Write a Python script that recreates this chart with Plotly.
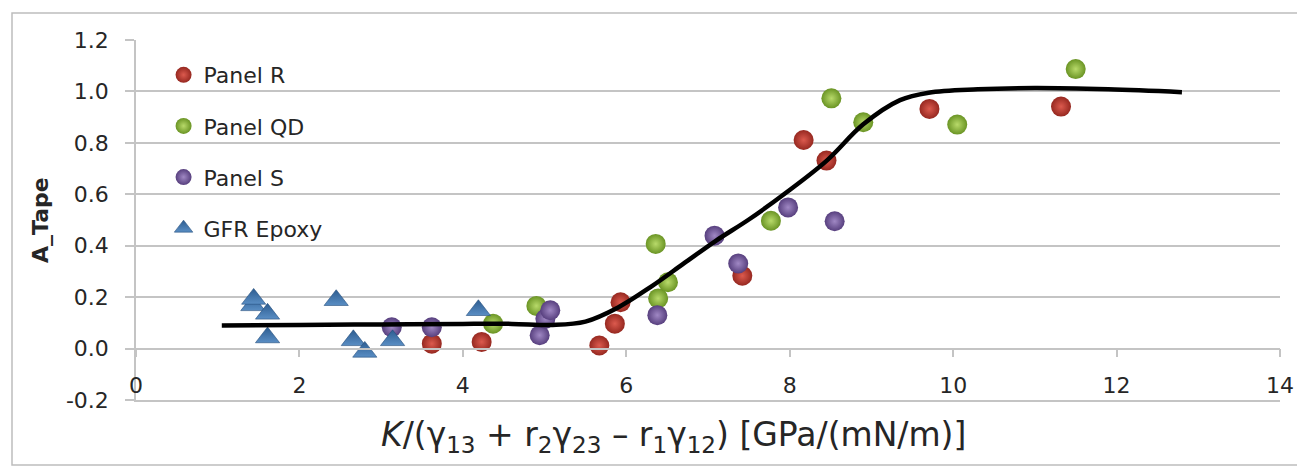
import plotly.graph_objects as go

# ---- data ----
r_x = [3.62, 4.23, 5.67, 5.86, 5.93, 7.42, 8.17, 8.45, 9.71, 11.32]
r_y = [0.019, 0.026, 0.012, 0.097, 0.180, 0.283, 0.811, 0.731, 0.932, 0.941]

qd_x = [4.37, 4.90, 6.36, 6.39, 6.51, 7.77, 8.51, 8.90, 10.05, 11.50]
qd_y = [0.097, 0.166, 0.407, 0.195, 0.258, 0.497, 0.973, 0.880, 0.871, 1.087]

s_x = [3.13, 3.62, 4.94, 5.01, 5.07, 6.38, 7.08, 7.37, 7.98, 8.55]
s_y = [0.083, 0.083, 0.052, 0.116, 0.149, 0.130, 0.439, 0.331, 0.549, 0.495]

gfr_x = [1.43, 1.44, 1.61, 1.61, 2.45, 2.66, 2.80, 3.14, 4.19]
gfr_y = [0.168, 0.193, 0.135, 0.043, 0.188, 0.032, -0.013, 0.032, 0.149]

fit_x = [1.05, 2.0, 3.0, 4.0, 4.6, 5.1, 5.5, 5.9, 6.3, 6.7, 7.1, 7.5, 7.95,
         8.45, 8.9, 9.35, 9.7, 10.3, 11.0, 11.9, 12.8]
fit_y = [0.090, 0.092, 0.094, 0.096, 0.096, 0.092, 0.105, 0.160, 0.240, 0.330,
         0.420, 0.502, 0.605, 0.730, 0.872, 0.966, 0.995, 1.008, 1.013, 1.008, 0.997]

x_ticks = [0, 2, 4, 6, 8, 10, 12, 14]
x_labels = ["0", "2", "4", "6", "8", "10", "12", "14"]
y_ticks = [-0.2, 0.0, 0.2, 0.4, 0.6, 0.8, 1.0, 1.2]
y_labels = ["-0.2", "0.0", "0.2", "0.4", "0.6", "0.8", "1.0", "1.2"]

FONT = "DejaVu Sans"
GRID = "#c4c4c4"
TXT = "#262626"

fig = go.Figure()

def sphere(name, xs, ys, edge, center, group):
    fig.add_trace(go.Scatter(
        x=xs, y=ys, mode="markers", name=name, legendgroup=group,
        marker=dict(size=20, color=edge, symbol="circle",
                    gradient=dict(type="radial", color=center),
                    line=dict(width=0)),
    ))

sphere("Panel R", r_x, r_y, "#962820", "#dc5a4e", "g1")
sphere("Panel QD", qd_x, qd_y, "#6a9424", "#b8da6a", "g2")
sphere("Panel S", s_x, s_y, "#573f7e", "#a088c4", "g3")

fig.add_trace(go.Scatter(
    x=gfr_x, y=gfr_y, mode="markers", name="GFR Epoxy", legendgroup="g4",
    marker=dict(size=21, symbol="triangle-up", color="#2c5c90",
                gradient=dict(type="vertical", color="#5a8ec4"),
                line=dict(width=0.6, color="#234e7c")),
))

fig.add_trace(go.Scatter(
    x=fit_x, y=fit_y, mode="lines", line=dict(color="black", width=4.5, shape="spline"),
    showlegend=False, hoverinfo="skip",
))

# dummy trace to carry the axis drawn at y = 0 with its tick marks
fig.add_trace(go.Scatter(x=[None], y=[None], xaxis="x2", showlegend=False, hoverinfo="skip"))

# the page body has an 8px margin, so the figure is laid out 8px up/left
fig.update_layout(
    width=1297, height=458,
    margin=dict(l=128, r=25, t=32, b=66),
    paper_bgcolor="white", plot_bgcolor="white",
    font=dict(family=FONT, size=22, color=TXT),
    showlegend=True,
    legend=dict(x=0.0241, y=0.961, xanchor="left", yanchor="top",
                bgcolor="rgba(0,0,0,0)", font=dict(family=FONT, size=22, color=TXT),
                tracegroupgap=19.5, traceorder="grouped", itemwidth=30),
    xaxis=dict(range=[0, 14], tickvals=x_ticks, ticktext=x_labels,
               showgrid=False, zeroline=False, showline=True, linecolor=GRID, linewidth=1.5,
               ticks="", ticklabelstandoff=-35, automargin=False,
               tickfont=dict(family=FONT, size=22, color=TXT)),
    xaxis2=dict(range=[0, 14], overlaying="x", matches="x", anchor="free",
                position=0.2 / 1.4, side="bottom", tickvals=x_ticks,
                showticklabels=False, showgrid=False, zeroline=False,
                showline=True, linecolor=GRID, linewidth=1.5, automargin=False,
                ticks="outside", ticklen=8, tickwidth=1.5, tickcolor=GRID),
    yaxis=dict(range=[-0.2, 1.2], tickvals=y_ticks, ticktext=y_labels,
               showgrid=True, gridcolor=GRID, gridwidth=1.5, zeroline=False,
               showline=True, linecolor=GRID, linewidth=1.5,
               ticks="outside", ticklen=9, tickwidth=1.5, tickcolor=GRID,
               ticklabelstandoff=12, automargin=False,
               tickfont=dict(family=FONT, size=22, color=TXT)),
    shapes=[dict(type="rect", xref="paper", yref="paper",
                 x0=(12 - 136) / 1144, x1=(1303 - 136) / 1144,
                 y0=(400 - 465) / 360, y1=(400 - 13) / 360,
                 line=dict(color="#bdbdbd", width=1.5), fillcolor="rgba(0,0,0,0)",
                 layer="below")],
    annotations=[
        dict(text="<i>K</i>/(γ<sub>13</sub> + r<sub>2</sub>γ<sub>23</sub> – r<sub>1</sub>γ<sub>12</sub>) [GPa/(mN/m)]",
             xref="paper", yref="paper", x=(673 - 136) / 1144, y=(400 - 436) / 360,
             xanchor="center", yanchor="middle", showarrow=False,
             font=dict(family=FONT, size=33, color=TXT)),
        dict(text="<b>A_Tape</b>", xref="paper", yref="paper",
             x=(40 - 136) / 1144, y=0.5, xanchor="center", yanchor="middle",
             textangle=-90, showarrow=False,
             font=dict(family=FONT, size=22, color=TXT)),
    ],
)

fig.write_html("out.html")
